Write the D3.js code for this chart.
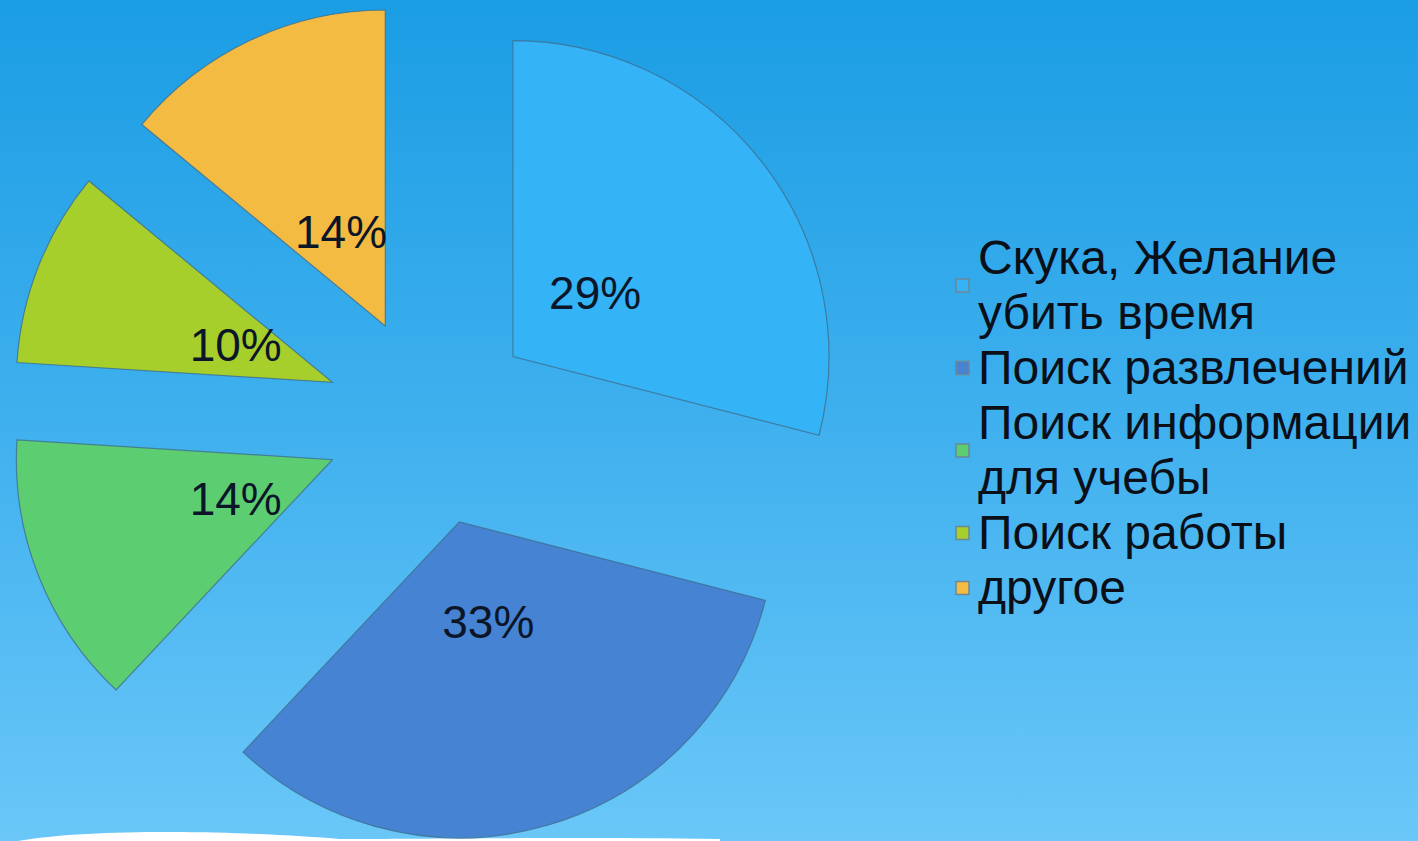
<!DOCTYPE html>
<html>
<head>
<meta charset="utf-8">
<script src="https://cdn.jsdelivr.net/npm/d3@7"></script>
<style>
  html, body { margin: 0; padding: 0; overflow: hidden; }
  svg { display: block; }
</style>
</head>
<body>
<svg id="chart" width="1418" height="841"></svg>
<script>
// ---- data ----
const categories = [
  "Скука, Желание убить время",
  "Поиск развлечений",
  "Поиск информации для учебы",
  "Поиск работы",
  "другое"
];
const legendLines = [
  ["Скука, Желание", "убить время"],
  ["Поиск развлечений"],
  ["Поиск информации", "для учебы"],
  ["Поиск работы"],
  ["другое"]
];
const values = [29, 33, 14, 10, 14];
const colors = ["#34b4f7", "#4684d3", "#5dcd72", "#a7cf2b", "#f3bb41"];

// ---- layout ----
const W = 1418, H = 841;
const cx = 430, cy = 421, R = 316, explode = 105, labelR = 104;
const svg = d3.select("#chart");

// background gradient
const defs = svg.append("defs");
const bg = defs.append("linearGradient").attr("id", "bg")
  .attr("x1", 0).attr("y1", 0).attr("x2", 0).attr("y2", 1);
bg.append("stop").attr("offset", "0%").attr("stop-color", "#1b9de4");
bg.append("stop").attr("offset", "50%").attr("stop-color", "#3fb0ee");
bg.append("stop").attr("offset", "100%").attr("stop-color", "#6ac7f8");
svg.append("rect").attr("width", W).attr("height", H).attr("fill", "url(#bg)");

// white wave at the bottom
svg.append("path")
  .attr("d", "M18,841 C60,834 110,832 170,832 C240,832 300,836 340,839 C420,839 560,837 720,839 L720,841 Z")
  .attr("fill", "#ffffff");

// pie
const pie = d3.pie().sort(null).value(d => d)(values);
const arc = d3.arc().innerRadius(0).outerRadius(R);

const g = svg.append("g").attr("transform", `translate(${cx},${cy})`);
const slices = g.selectAll("g.slice").data(pie).join("g")
  .attr("class", "slice")
  .attr("transform", d => {
    const a = (d.startAngle + d.endAngle) / 2;
    return `translate(${explode * Math.sin(a)},${-explode * Math.cos(a)})`;
  });

slices.append("path")
  .attr("d", arc)
  .attr("fill", (d, i) => colors[i])
  .attr("stroke", "#3f6f8f")
  .attr("stroke-opacity", 0.8)
  .attr("stroke-width", 1.2);

slices.append("text")
  .attr("transform", d => {
    const a = (d.startAngle + d.endAngle) / 2;
    return `translate(${labelR * Math.sin(a)},${-labelR * Math.cos(a)})`;
  })
  .attr("text-anchor", "middle")
  .attr("dy", "0.36em")
  .attr("font-family", "'Liberation Sans', Arial, sans-serif")
  .attr("font-size", 46)
  .attr("fill", "#0c1628")
  .text(d => d.data + "%");

// legend
const lineH = 55, legX = 978, firstBase = 274, markerSize = 13;
const leg = svg.append("g");
let line = 0;
legendLines.forEach((lines, i) => {
  const b1 = firstBase + line * lineH;
  const b2 = firstBase + (line + lines.length - 1) * lineH;
  const my = (b1 + b2) / 2 - 16;
  leg.append("rect")
    .attr("x", 956).attr("y", my - markerSize / 2)
    .attr("width", markerSize).attr("height", markerSize)
    .attr("fill", colors[i])
    .attr("stroke", "#6d8796").attr("stroke-width", 1.5);
  lines.forEach((t, k) => {
    leg.append("text")
      .attr("x", legX).attr("y", b1 + k * lineH)
      .attr("font-family", "'Liberation Sans', Arial, sans-serif")
      .attr("font-size", 48)
      .attr("fill", "#0b0f18")
      .text(t);
  });
  line += lines.length;
});
</script>
</body>
</html>
